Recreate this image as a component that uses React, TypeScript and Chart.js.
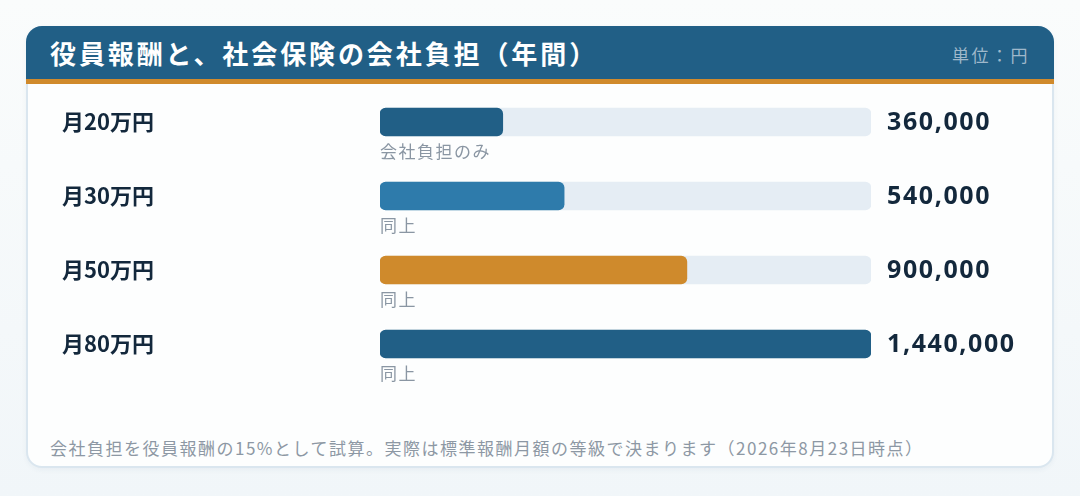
import React, { useEffect, useRef } from 'react';
import { Chart, registerables } from 'chart.js';

Chart.register(...registerables);

// --- data ---
const categories = ['月20万円', '月30万円', '月50万円', '月80万円'];
const burdens = [360000, 540000, 900000, 1440000];
const trackValues = [1440000, 1440000, 1440000, 1440000];
const notes = ['会社負担のみ', '同上', '同上', '同上'];
const barColors = ['#215f86', '#2e7bab', '#cf8a2c', '#215f86'];
const scaleMax = 1440000;

const JP = '"Noto Sans CJK JP", "Noto Sans", sans-serif';

// row labels, values and notes drawn next to each bar
const rowText = {
  id: 'rowText',
  afterDatasetsDraw(chart: any) {
    const { ctx, chartArea, scales } = chart;
    ctx.save();
    ctx.textBaseline = 'middle';
    categories.forEach((cat, i) => {
      const y = scales.y.getPixelForValue(i);
      ctx.fillStyle = '#13283c';
      ctx.font = `bold 22px ${JP}`;
      ctx.textAlign = 'left';
      ctx.fillText(cat, 36, y);

      ctx.font = 'bold 25px "Noto Sans", sans-serif';
      (ctx as any).letterSpacing = '1.6px';
      ctx.fillText(burdens[i].toLocaleString('en-US'), chartArea.right + 16, y + 1);

      ctx.fillStyle = '#8a96a3';
      ctx.font = `17px ${JP}`;
      (ctx as any).letterSpacing = '1.5px';
      ctx.fillText(notes[i], chartArea.left, y + 30);
      (ctx as any).letterSpacing = '0px';
    });
    ctx.restore();
  },
};

function BurdenChart() {
  const canvasRef = useRef<HTMLCanvasElement>(null);

  useEffect(() => {
    const ctx = canvasRef.current?.getContext('2d');
    if (!ctx) return;
    const chart = new Chart(ctx, {
      type: 'bar',
      data: {
        labels: categories,
        datasets: [
          {
            data: burdens,
            backgroundColor: barColors,
            barThickness: 28,
            borderRadius: 6,
            borderSkipped: false,
            grouped: false,
            order: 0,
          },
          {
            data: trackValues,
            backgroundColor: '#e5edf4',
            barThickness: 28,
            borderRadius: 6,
            borderSkipped: false,
            grouped: false,
            order: 1,
          },
        ],
      },
      options: {
        indexAxis: 'y',
        animation: false,
        responsive: true,
        maintainAspectRatio: false,
        layout: { padding: { left: 354, right: 183, top: 1, bottom: 23 } },
        scales: {
          x: { display: false, min: 0, max: scaleMax },
          y: { display: false },
        },
        plugins: { legend: { display: false }, tooltip: { enabled: false } },
      },
      plugins: [rowText],
    });
    return () => chart.destroy();
  }, []);

  return (
    <div style={{ position: 'absolute', left: 26, top: 84, width: 1028, height: 320 }}>
      <canvas ref={canvasRef}></canvas>
    </div>
  );
}

export default function App() {
  return (
    <div
      style={{
        position: 'fixed',
        inset: 0,
        width: 1080,
        height: 496,
        background: 'linear-gradient(180deg, #fafcfc 0%, #f1f6f9 100%)',
        fontFamily: JP,
        overflow: 'hidden',
      }}
    >
      <div
        style={{
          position: 'absolute',
          left: 26,
          top: 26,
          width: 1028,
          height: 442,
          boxSizing: 'border-box',
          border: '2px solid #dae6ef',
          borderRadius: 16,
          background: '#fdfefe',
          boxShadow: '0 2px 5px rgba(30,70,110,0.05)',
        }}
      />
      <div
        style={{
          position: 'absolute',
          left: 26,
          top: 26,
          width: 1028,
          height: 53,
          background: '#215f86',
          borderRadius: '16px 16px 0 0',
        }}
      />
      <div style={{ position: 'absolute', left: 26, top: 79, width: 1028, height: 5, background: '#d08a2c' }} />
      <div
        style={{
          position: 'absolute',
          left: 50,
          top: 26,
          height: 53,
          lineHeight: '53px',
          color: '#ffffff',
          fontWeight: 'bold',
          fontSize: 26,
          letterSpacing: 2.9,
          whiteSpace: 'nowrap',
        }}
      >
        役員報酬と、社会保険の会社負担（年間）
      </div>
      <div
        style={{
          position: 'absolute',
          left: 952,
          top: 26,
          height: 57,
          lineHeight: '57px',
          color: '#9fb8cb',
          fontSize: 17,
          letterSpacing: 2.5,
          whiteSpace: 'nowrap',
        }}
      >
        単位：円
      </div>
      <BurdenChart />
      <div
        style={{
          position: 'absolute',
          left: 50,
          top: 436,
          height: 24,
          lineHeight: '24px',
          color: '#8d98a4',
          fontSize: 17,
          letterSpacing: 1.5,
          whiteSpace: 'nowrap',
        }}
      >
        会社負担を役員報酬の15%として試算。実際は標準報酬月額の等級で決まります（2026年8月23日時点）
      </div>
    </div>
  );
}
